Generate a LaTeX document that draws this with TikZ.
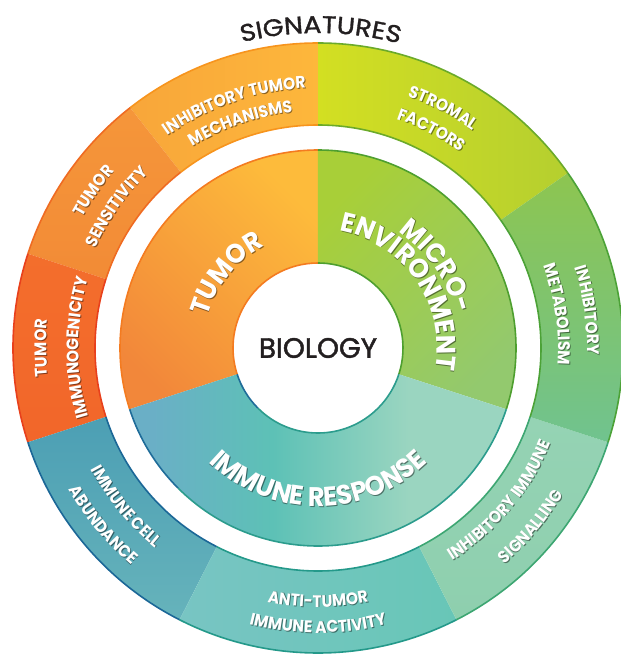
\documentclass[tikz,border=0pt]{standalone}
\usepackage{fontspec}
\setmainfont{Poppins}
\newfontfamily\medfont[FakeBold=1.6]{Poppins}
\newfontfamily\titlefont[FakeBold=1.4,FakeStretch=1.12]{Poppins}
\newfontfamily\lblfont[FakeStretch=0.92]{Poppins}
\newfontfamily\midlblfont[FakeStretch=0.95]{Poppins}
\usetikzlibrary{decorations.text}

\definecolor{cSFa}{HTML}{D3DF22}\definecolor{cSFb}{HTML}{B5CF2F}\definecolor{sSF}{HTML}{6BAA2A}
\definecolor{cTMa}{HTML}{F8A63A}\definecolor{cTMb}{HTML}{FDB73B}\definecolor{sTM}{HTML}{F7941D}
\definecolor{cTSa}{HTML}{F5963A}\definecolor{cTSb}{HTML}{F28B36}\definecolor{sTS}{HTML}{EF6B22}
\definecolor{cTIa}{HTML}{F36E2C}\definecolor{cTIb}{HTML}{F2662A}\definecolor{sTI}{HTML}{E8401C}
\definecolor{cCAa}{HTML}{4C9FB4}\definecolor{cCAb}{HTML}{66B3BB}\definecolor{sCA}{HTML}{1B6797}
\definecolor{cATa}{HTML}{78C5C3}\definecolor{cATb}{HTML}{68C6B7}\definecolor{sAT}{HTML}{24998A}
\definecolor{cISa}{HTML}{95D3B4}\definecolor{cISb}{HTML}{8ECFAE}\definecolor{sIS}{HTML}{3DA672}
\definecolor{cIMa}{HTML}{8DC550}\definecolor{cIMb}{HTML}{70C38F}\definecolor{sIM}{HTML}{4CA237}
\definecolor{mTa}{HTML}{FDBB3B}\definecolor{mTb}{HTML}{F2873A}\definecolor{smT}{HTML}{F47B20}
\definecolor{mMa}{HTML}{A8CF38}\definecolor{mMb}{HTML}{93C96E}\definecolor{smM}{HTML}{4E9F2F}
\definecolor{mIa}{HTML}{6AAFC6}\definecolor{mIm}{HTML}{5DC1B6}\definecolor{mIb}{HTML}{9AD5C0}\definecolor{smI}{HTML}{2C9C8D}
\definecolor{smIb}{HTML}{1F6C99}
\definecolor{darktext}{HTML}{231F20}
\pgfdeclarehorizontalshading{immuneshade}{100bp}{color(0bp)=(mIa); color(28bp)=(mIa); color(44bp)=(mIm); color(62bp)=(mIb); color(100bp)=(mIb)}

\newcommand\ringsector[5]{%
  \shade[#5] (#1:#3) arc[start angle=#1,end angle=#2,radius=#3] -- (#2:#4) arc[start angle=#2,end angle=#1,radius=#4] -- cycle;}
\newcommand\ringedges[5]{%
  \draw[#5,line width=1.6] (#1:#3) arc[start angle=#1,end angle=#2,radius=#3];
  \draw[#5,line width=1.6] (#1:#4) arc[start angle=#1,end angle=#2,radius=#4];}
% clockwise text (tops outward): center angle, baseline radius, font, text
\newcommand\cwlabel[4]{%
  \begin{scope}[opacity=.45]
  \path[decorate,decoration={text along path,text align=center,text={|#3\color{black}|#4}}]
    ([shift={(0.9,-0.9)}]{#1+60}:#2) arc[start angle=#1+60,end angle=#1-60,radius=#2];
  \end{scope}
  \path[decorate,decoration={text along path,text align=center,text={|#3\color{white}|#4}}]
    ({#1+60}:#2) arc[start angle=#1+60,end angle=#1-60,radius=#2];}
% counter-clockwise text (tops inward)
\newcommand\ccwlabel[4]{%
  \begin{scope}[opacity=.45]
  \path[decorate,decoration={text along path,text align=center,text={|#3\color{black}|#4}}]
    ([shift={(0.9,-0.9)}]{#1-60}:#2) arc[start angle=#1-60,end angle=#1+60,radius=#2];
  \end{scope}
  \path[decorate,decoration={text along path,text align=center,text={|#3\color{white}|#4}}]
    ({#1-60}:#2) arc[start angle=#1-60,end angle=#1+60,radius=#2];}
\newcommand\outerfont{\lblfont\bfseries\fontsize{16.8}{16.8}\selectfont}
\newcommand\midfont{\midlblfont\bfseries\fontsize{27}{27}\selectfont}

\begin{document}
\begin{tikzpicture}[x=1pt,y=1pt]
\useasboundingbox (-318,-306) rectangle (303,348);

% outer ring
\ringsector{35}{90}{223}{305}{left color=cSFa,right color=cSFb}
\ringsector{90}{128}{223}{305}{left color=cTMa,right color=cTMb}
\ringsector{128}{162}{223}{305}{top color=cTSa,bottom color=cTSb}
\ringsector{162}{198}{223}{305}{top color=cTIa,bottom color=cTIb}
\ringsector{198}{243}{223}{305}{top color=cCAa,bottom color=cCAb}
\ringsector{243}{297}{223}{305}{left color=cATa,right color=cATb}
\ringsector{297}{342}{223}{305}{top color=cISa,bottom color=cISb}
\ringsector{342}{395}{223}{305}{top color=cIMa,bottom color=cIMb}
\ringedges{35}{90}{223}{305}{sSF}
\ringedges{90}{128}{223}{305}{sTM}
\ringedges{128}{162}{223}{305}{sTS}
\ringedges{162}{198}{223}{305}{sTI}
\ringedges{198}{243}{223}{305}{sCA}
\ringedges{243}{297}{223}{305}{sAT}
\ringedges{297}{342}{223}{305}{sIS}
\ringedges{342}{395}{223}{305}{sIM}

% middle ring
\ringsector{90}{198}{85}{198}{top color=mTa,bottom color=mTb,shading angle=-45}
\ringsector{-18}{90}{85}{198}{top color=mMa,bottom color=mMb,shading angle=45}
\ringsector{198}{342}{85}{198}{shading=immuneshade}
\ringedges{90}{198}{85}{198}{smT}
\ringedges{-18}{90}{85}{198}{smM}
\ringedges{225}{342}{85}{198}{smI}
\ringedges{198}{225}{85}{198}{smIb}

% outer labels
\cwlabel{109}{260}{\outerfont}{INHIBITORY TUMOR}
\cwlabel{109}{237}{\outerfont}{MECHANISMS}
\cwlabel{62.5}{267}{\outerfont}{STROMAL}
\cwlabel{62.5}{242}{\outerfont}{FACTORS}
\cwlabel{8}{269}{\outerfont}{INHIBITORY}
\cwlabel{8}{240}{\outerfont}{METABOLISM}
\ccwlabel{320}{251.5}{\outerfont}{INHIBITORY IMMUNE}
\ccwlabel{320}{285.5}{\outerfont}{SIGNALLING}
\ccwlabel{270}{259}{\outerfont}{ANTI-TUMOR}
\ccwlabel{270}{285}{\outerfont}{IMMUNE ACTIVITY}
\ccwlabel{219.5}{257.5}{\outerfont}{IMMUNE CELL}
\ccwlabel{219.5}{286.5}{\outerfont}{ABUNDANCE}
\cwlabel{180}{271.5}{\outerfont}{TUMOR}
\cwlabel{180}{239.5}{\outerfont}{IMMUNOGENICITY}
\cwlabel{145}{269.5}{\outerfont}{TUMOR}
\cwlabel{145}{243.5}{\outerfont}{SENSITIVITY}

% middle labels
\cwlabel{141}{115}{\midfont}{TUMOR}
\cwlabel{34.7}{141.5}{\midfont}{MICRO-}
\cwlabel{34.5}{119}{\midfont}{ENVIRONMENT}
\ccwlabel{270}{158.5}{\midfont}{IMMUNE RESPONSE}

% title and centre
\path[decorate,decoration={text along path,text align=center,text={|\titlefont\fontsize{24}{24}\selectfont\color{darktext}|SIGNATURES}}]
  (149.5:315) arc[start angle=149.5,end angle=29.5,radius=315];
\node[text=darktext,font=\medfont\fontsize{28}{28}\selectfont] (bio) at (0,0) {BIOLOGY};
\end{tikzpicture}
\end{document}
